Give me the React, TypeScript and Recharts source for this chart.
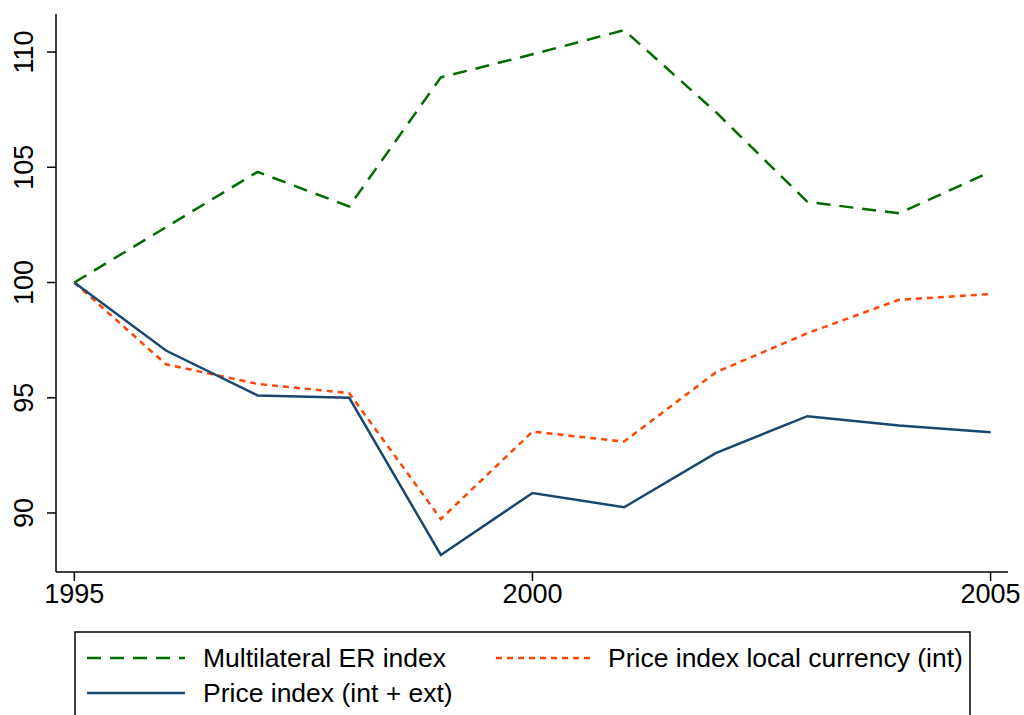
import React from 'react';
import { LineChart, Line, XAxis, YAxis } from 'recharts';

// years on the x axis
const years = [1995, 1996, 1997, 1998, 1999, 2000, 2001, 2002, 2003, 2004, 2005];

// series values
const multilateralER = [100, 102.4, 104.8, 103.3, 108.9, 109.9, 110.95, 107.4, 103.5, 103.0, 104.8];
const priceLocal = [100, 96.45, 95.6, 95.2, 89.74, 93.53, 93.1, 96.1, 97.8, 99.25, 99.5];
const priceIntExt = [100, 97.05, 95.1, 95.0, 88.18, 90.87, 90.25, 92.6, 94.2, 93.8, 93.5];

const xTicks = [1995, 2000, 2005];
const yTicks = [90, 95, 100, 105, 110];

const seriesNames = ['Multilateral ER index', 'Price index local currency (int)', 'Price index (int + ext)'];

const data = years.map((year, i) => ({
  year,
  er: multilateralER[i],
  local: priceLocal[i],
  intExt: priceIntExt[i],
}));

const FONT = 'Liberation Sans, Arial, sans-serif';

const YTick = (props: any) => {
  const { x, y, payload } = props;
  const tx = x - 12;
  return (
    <text x={tx} y={y} transform={`rotate(-90, ${tx}, ${y})`} textAnchor="middle" fontSize={27} fontFamily={FONT} fill="#000">
      {payload.value}
    </text>
  );
};

const XTick = (props: any) => {
  const { x, y, payload } = props;
  return (
    <text x={x} y={y + 20} textAnchor="middle" fontSize={27} fontFamily={FONT} fill="#000">
      {payload.value}
    </text>
  );
};

const legendItems = [
  { name: seriesNames[0], color: '#006b00', dash: '14 9', col: 0, row: 0 },
  { name: seriesNames[1], color: '#ff4500', dash: '6 5', col: 1, row: 0 },
  { name: seriesNames[2], color: '#1a476f', dash: undefined, col: 0, row: 1 },
];

// legend box in the style of the original, cut off by the bottom edge
const StataLegend = () => (
  <svg width={1024} height={84} style={{ display: 'block' }}>
    <rect x={75} y={1} width={895} height={100} fill="#fff" stroke="#000" strokeWidth={1.5} />
    {legendItems.map((it) => {
      const lx = it.col === 0 ? 87 : 496;
      const tx = it.col === 0 ? 203 : 608;
      const ly = it.row === 0 ? 27 : 62;
      return (
        <g key={it.name}>
          <line x1={lx} x2={lx + 98} y1={ly} y2={ly} stroke={it.color} strokeWidth={2.5} strokeDasharray={it.dash} />
          <text x={tx} y={ly + 9} fontSize={26.5} fontFamily={FONT} fill="#000">
            {it.name}
          </text>
        </g>
      );
    })}
  </svg>
);

const App: React.FC = () => {
  return (
    <div style={{ position: 'absolute', left: 0, top: 0, width: 1024, height: 715, background: '#fff', overflow: 'hidden' }}>
      <LineChart width={1024} height={715} data={data} margin={{ top: 14, right: 16, left: 0, bottom: 93 }}>
        <XAxis
          dataKey="year"
          type="number"
          domain={[1994.8, 2005.19]}
          ticks={xTicks}
          tick={<XTick />}
          tickSize={9}
          height={50}
          stroke="#000"
          strokeWidth={1.5}
          allowDataOverflow
        />
        <XAxis xAxisId="top" orientation="top" type="number" domain={[0, 1]} tick={false} tickLine={false} height={0} stroke="#000" strokeWidth={1.5} />
        <YAxis
          type="number"
          domain={[87.44, 111.65]}
          ticks={yTicks}
          tick={<YTick />}
          tickSize={9}
          width={56}
          stroke="#000"
          strokeWidth={1.5}
          allowDataOverflow
        />
        <YAxis yAxisId="right" orientation="right" tick={false} tickLine={false} width={0} stroke="#000" strokeWidth={1.5} />
        <Line type="linear" dataKey="er" name={seriesNames[0]} stroke="#006b00" strokeWidth={2.5} strokeDasharray="14 9" dot={false} isAnimationActive={false} />
        <Line type="linear" dataKey="local" name={seriesNames[1]} stroke="#ff4500" strokeWidth={2.5} strokeDasharray="6 5" dot={false} isAnimationActive={false} />
        <Line type="linear" dataKey="intExt" name={seriesNames[2]} stroke="#1a476f" strokeWidth={2.5} dot={false} isAnimationActive={false} />
      </LineChart>
      <div style={{ position: 'absolute', left: 0, top: 631, width: 1024, height: 84, overflow: 'hidden' }}>
        <StataLegend />
      </div>
    </div>
  );
};

export default App;
